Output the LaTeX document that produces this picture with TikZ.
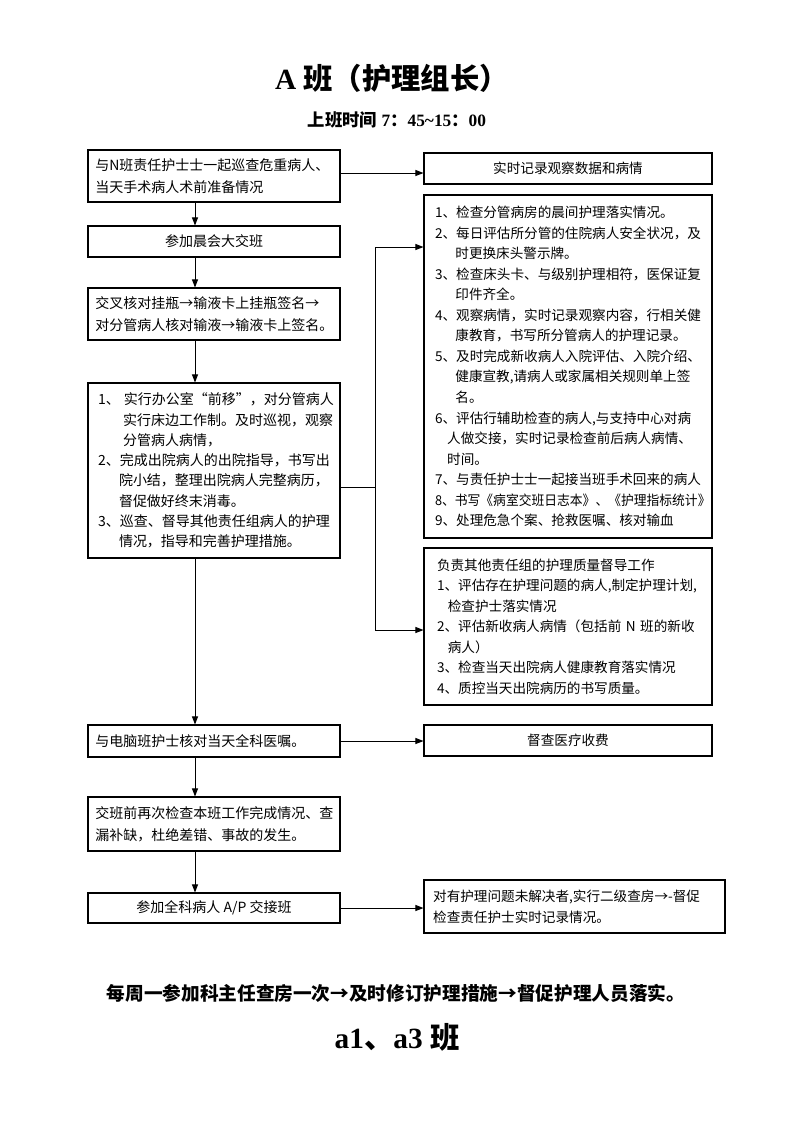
\documentclass[tikz,border=0pt]{standalone}
\usepackage{fontspec}
\usepackage{graphicx}
\usetikzlibrary{arrows.meta,calc}
\newfontfamily\cjk{Noto Sans CJK SC}
\newfontfamily\lat{Liberation Serif}
\begin{document}
\begin{tikzpicture}[x=0.75pt,y=-0.75pt,
  box/.style={draw, line width=0.8pt, inner xsep=0pt, inner ysep=0pt},
  lfont/.style={font=\cjk\fontsize{10.5}{16.5}\selectfont},
  rfont/.style={font=\cjk\fontsize{10.2}{15.4}\selectfont},
  lbox/.style={box, lfont, minimum width=189pt, text width=178pt, align=left},
  lcbox/.style={box, lfont, minimum width=189pt, align=center},
  rcbox/.style={box, rfont, minimum width=216pt, align=center},
  arr/.style={line width=0.7pt, -{Triangle[length=6pt,width=4.5pt]}},
  ln/.style={line width=0.7pt}]
\fill[white] (0,0) rectangle (793,1122);
\path[use as bounding box] (0,0) rectangle (793,1122);

% titles
\node (title) at (392,78) {\fontsize{22}{26}\selectfont\bfseries{\lat A }{\cjk 班（护理组长）}};
\node (time) at (397,120) {\fontsize{13}{16}\selectfont\bfseries{\cjk 上班时间}{\lat\ 7}{\cjk ：}{\lat 45\textasciitilde 15}{\cjk ：}{\lat 00}};

% left column
\node[lbox, minimum height=39pt] (L1) at (214,176) {与N班责任护士士一起巡查危重病人、\\当天手术病人术前准备情况};
\node[lcbox, minimum height=23.25pt] (L2) at (214,241.5) {参加晨会大交班};
\node[lbox, minimum height=39pt] (L3) at (214,314) {交叉核对挂瓶→输液卡上挂瓶签名→\\对分管病人核对输液→输液卡上签名。};
\node[box, minimum width=189pt, minimum height=131.25pt, text width=174pt, align=left,
      font=\cjk\fontsize{10.5}{15.2}\selectfont] (L4) at (214,470.5) {%
\mbox{1、\kern0.3em 实行办公室“前移”，对分管病人}\\
\hspace*{1.8em}实行床边工作制。及时巡视，观察\\
\hspace*{1.8em}分管病人病情，\\
2、完成出院病人的出院指导，书写出\\
\hspace*{1.5em}院小结，整理出院病人完整病历，\\
\hspace*{1.5em}督促做好终末消毒。\\
3、巡查、督导其他责任组病人的护理\\
\hspace*{1.5em}情况，指导和完善护理措施。};
\node[lbox, minimum height=24pt] (L5) at (214,741) {与电脑班护士核对当天全科医嘱。};
\node[lbox, minimum height=40.5pt] (L6) at (214,824) {交班前再次检查本班工作完成情况、查\\漏补缺，杜绝差错、事故的发生。};
\node[lcbox, minimum height=22.5pt] (L7) at (214,908) {参加全科病人 A/P 交接班};

% right column
\node[rcbox, minimum height=23.25pt] (R0) at (568,168.5) {实时记录观察数据和病情};
\node[box, rfont, minimum width=216pt, minimum height=257.25pt, text width=199.5pt, align=left] (R1) at (568,366.5) {%
1、检查分管病房的晨间护理落实情况。\\
2、每日评估所分管的住院病人安全状况，及\\
\hspace*{1.5em}时更换床头警示牌。\\
3、检查床头卡、与级别护理相符，医保证复\\
\hspace*{1.5em}印件齐全。\\
4、观察病情，实时记录观察内容，行相关健\\
\hspace*{1.5em}康教育，书写所分管病人的护理记录。\\
5、及时完成新收病人入院评估、入院介绍、\\
\hspace*{1.5em}健康宣教,请病人或家属相关规则单上签\\
\hspace*{1.5em}名。\\
6、评估行辅助检查的病人,与支持中心对病\\
\hspace*{0.9em}人做交接，实时记录检查前后病人病情、\\
\hspace*{0.9em}时间。\\
7、与责任护士士一起接当班手术回来的病人\\
\scalebox{0.94}[1]{8、书写《病室交班日志本》、《护理指标统计》}\\
9、处理危急个案、抢救医嘱、核对输血};
\node[box, rfont, minimum width=216pt, minimum height=117.75pt, text width=196.5pt, align=left] (R2) at (568,626.5) {%
负责其他责任组的护理质量督导工作\\
1、评估存在护理问题的病人,制定护理计划,\\
\hspace*{0.8em}检查护士落实情况\\
2、评估新收病人病情（包括前 N 班的新收\\
\hspace*{0.8em}病人）\\
3、检查当天出院病人健康教育落实情况\\
4、质控当天出院病历的书写质量。};
\node[rcbox, minimum height=23.25pt] (R3) at (568,740.5) {督查医疗收费};
\node[box, minimum width=225.75pt, minimum height=39.75pt, text width=212pt, align=left,
      font=\cjk\fontsize{10.2}{16}\selectfont] (R4) at (574.5,906.5) {对有护理问题未解决者,实行二级查房→-督促\\检查责任护士实时记录情况。};

% bottom texts
\node (week) at (396,993) {\cjk\bfseries\fontsize{14}{17}\selectfont 每周一参加科主任查房一次→及时修订护理措施→督促护理人员落实。};
\node (a13) at (397,1037) {\fontsize{22}{26}\selectfont\bfseries{\lat a1}{\cjk 、}{\lat a3 }{\cjk 班}};

% helper coordinates
\coordinate (sp) at (195,0);
\coordinate (a1) at (0,173);
\coordinate (bx) at (375,487);
\coordinate (t1) at (375,247);
\coordinate (t2) at (375,630);

% spine
\draw[arr] (L1.south -| sp) -- (L2.north -| sp);
\draw[arr] (L2.south -| sp) -- (L3.north -| sp);
\draw[arr] (L3.south -| sp) -- (L4.north -| sp);
\draw[arr] (L4.south -| sp) -- (L5.north -| sp);
\draw[arr] (L5.south -| sp) -- (L6.north -| sp);
\draw[arr] (L6.south -| sp) -- (L7.north -| sp);

% branches
\draw[arr] (L1.east |- a1) -- (R0.west |- a1);
\draw[ln] (L4.east |- bx) -- (bx);
\draw[ln] (t1) -- (t2);
\draw[arr] (t1) -- (t1 -| R1.west);
\draw[arr] (t2) -- (t2 -| R2.west);
\draw[arr] (L5.east) -- (L5.east -| R3.west);
\draw[arr] (L7.east) -- (L7.east -| R4.west);
\end{tikzpicture}
\end{document}
